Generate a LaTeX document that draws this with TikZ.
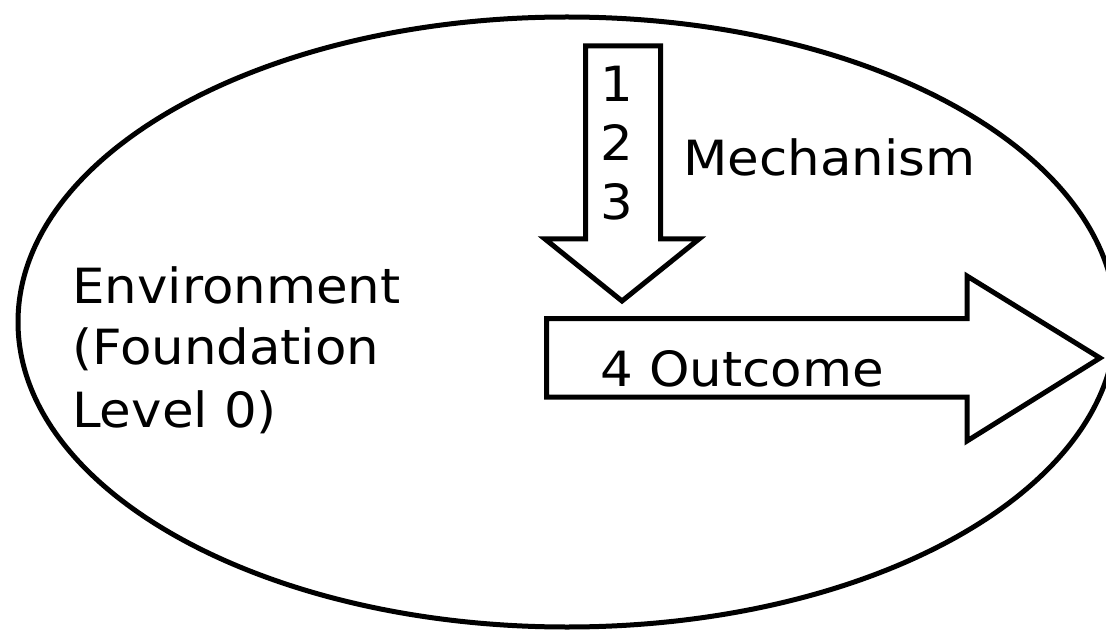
\documentclass[tikz,border=0pt]{standalone}
\usepackage{fontspec}
\setmainfont{DejaVu Sans}[FakeStretch=1.06]
\begin{document}
\begin{tikzpicture}[x=1pt,y=-1pt,
  shapeline/.style={draw=black, line width=5pt, line join=miter, fill=white},
  lbl/.style={font=\fontsize{48.5}{60}\selectfont, inner sep=0pt, anchor=base west}]
\useasboundingbox (0,0) rectangle (1106,631);
\clip (0,0) rectangle (1106,631);
% environment ellipse
\draw[shapeline] (567,322) ellipse [x radius=549, y radius=305];
% mechanism arrow (down)
\coordinate (mtop) at (623,46);
\coordinate (mtip) at (622,301);
\draw[shapeline] (585.5,46) -- (660.5,46) -- (660.5,239) -- (699,239) -- (mtip)
  -- (545,239) -- (585.5,239) -- cycle;
% outcome arrow (right)
\coordinate (otip) at (1100,358);
\draw[shapeline] (546.7,318.5) -- (967,318.5) -- (967,276) -- (otip)
  -- (967,441) -- (967,397) -- (546.7,397) -- cycle;
% texts
\node[lbl, anchor=base] (n1) at (617,102) {1};
\node[lbl, anchor=base] (n2) at (617,161) {2};
\node[lbl, anchor=base] (n3) at (617,220) {3};
\node[lbl] (mech) at (683,176) {Mechanism};
\node[lbl] (env1) at (72,303.5) {Environment};
\node[lbl] (env2) at (72,364) {(Foundation};
\node[lbl] (env3) at (72,427) {Level 0)};
\node[lbl] (out) at (600,386) {4 Outcome};
\end{tikzpicture}
\end{document}
